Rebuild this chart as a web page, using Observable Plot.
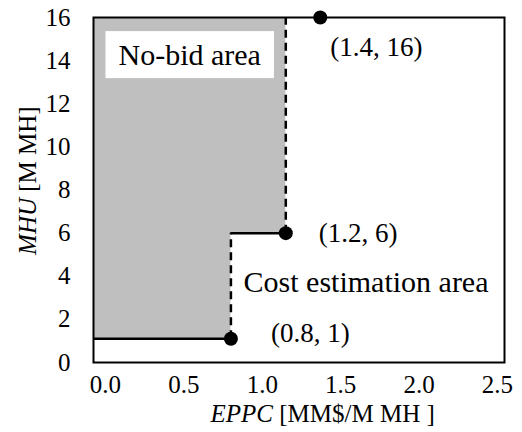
<!DOCTYPE html>
<html>
<head>
<meta charset="utf-8">
<script src="https://cdn.jsdelivr.net/npm/d3@7"></script>
<script src="https://cdn.jsdelivr.net/npm/@observablehq/plot@0.6"></script>
<style>
  html, body { margin: 0; padding: 0; background: white; }
  #chart svg, #chart svg text { font-family: "Liberation Serif", Tinos, "Times New Roman", Times, serif !important; }
</style>
</head>
<body>
<div id="chart"></div>
<script>
// ---- data ----
const pointX = [0.8, 1.15, 1.37];          // EPPC of the break points (as plotted)
const pointY = [1.1, 6, 16];               // MHU of the break points (as plotted)
const pointLabels = ["(0.8, 1)", "(1.2, 6)", "(1.4, 16)"];
const xTicks = [0, 0.5, 1.0, 1.5, 2.0, 2.5];
const yTicks = [0, 2, 4, 6, 8, 10, 12, 14, 16];
const areaLabels = ["No-bid area", "Cost estimation area"];
const xTitle = ["EPPC", " [MM$/M MH ]"];
const yTitle = ["MHU", " [M MH]"];

// ---- layout ----
const xDomain = [-0.0765, 2.545];
const yDomain = [0, 16];
const FONT = "'Liberation Serif', Tinos, 'Times New Roman', Times, serif";

const points = pointX.map((x, i) => ({x, y: pointY[i], label: pointLabels[i]}));
const xmin = xDomain[0];
const regions = [
  {x1: xmin, x2: pointX[0], y1: pointY[0], y2: pointY[2]},
  {x1: xmin, x2: pointX[1], y1: pointY[1], y2: pointY[2]}
];
const solidSegs = [
  {x1: xmin, x2: pointX[0], y: pointY[0]},
  {x1: pointX[0], x2: pointX[1], y: pointY[1]}
];
const dashedSegs = [
  {x: pointX[0], y1: pointY[0], y2: pointY[1]},
  {x: pointX[1], y1: pointY[1], y2: pointY[2]}
];
const labelOffsets = [[40, -5], [33, 0], [10, 30]];

const chart = Plot.plot({
  width: 522,
  height: 432,
  marginLeft: 93,
  marginRight: 18,
  marginTop: 17,
  marginBottom: 70,
  style: {fontFamily: FONT, fontSize: "25px", background: "white", color: "black", overflow: "visible"},
  x: {domain: xDomain, ticks: xTicks, tickFormat: d3.format(".1f"), tickSize: 0, tickPadding: 13, label: null},
  y: {domain: yDomain, ticks: yTicks, tickSize: 0, tickPadding: 23, label: null},
  marks: [
    Plot.rect(regions, {x1: "x1", x2: "x2", y1: "y1", y2: "y2", fill: "#bfbfbf"}),
    Plot.ruleY(solidSegs, {x1: "x1", x2: "x2", y: "y", stroke: "black", strokeWidth: 2.5}),
    Plot.ruleX(dashedSegs, {x: "x", y1: "y1", y2: "y2", stroke: "black", strokeWidth: 2.5, strokeDasharray: "8,5"}),
    Plot.frame({stroke: "black", strokeWidth: 2}),
    Plot.dot(points, {x: "x", y: "y", r: 7, fill: "black", stroke: "none"}),
    ...points.map((p, i) => Plot.text([p], {
      x: "x", y: "y", text: "label", textAnchor: "start", lineAnchor: "middle",
      dx: labelOffsets[i][0], dy: labelOffsets[i][1], fontSize: 27, fill: "black"
    })),
    Plot.text([areaLabels[0]], {
      frameAnchor: "top-left", textAnchor: "start", lineAnchor: "middle",
      dx: 25, dy: 38, fontSize: 30, fill: "black"
    }),
    Plot.text([areaLabels[1]], {
      frameAnchor: "bottom-right", textAnchor: "end", lineAnchor: "middle",
      dx: -16, dy: -80, fontSize: 30, fill: "black"
    }),
    // x axis title
    Plot.text([xTitle[0]], {frameAnchor: "bottom", textAnchor: "end", lineAnchor: "middle", dx: -26, dy: 51, fontStyle: "italic", fontSize: 25, fill: "black"}),
    Plot.text([xTitle[1]], {frameAnchor: "bottom", textAnchor: "start", lineAnchor: "middle", dx: -26, dy: 51, fontSize: 25, fill: "black"}),
    // y axis title
    Plot.text([yTitle[0]], {frameAnchor: "left", rotate: -90, textAnchor: "end", lineAnchor: "middle", dx: -66, dy: 8, fontStyle: "italic", fontSize: 25, fill: "black"}),
    Plot.text([yTitle[1]], {frameAnchor: "left", rotate: -90, textAnchor: "start", lineAnchor: "middle", dx: -66, dy: 8, fontSize: 25, fill: "black"})
  ]
});

document.getElementById("chart").appendChild(chart);

// white background box behind "No-bid area"
const nb = Array.from(chart.querySelectorAll("text")).find(t => t.textContent === areaLabels[0]);
if (nb) {
  const bb = nb.getBBox();
  const padX = 13;
  const r = document.createElementNS("http://www.w3.org/2000/svg", "rect");
  r.setAttribute("x", bb.x - padX);
  r.setAttribute("y", bb.y - 7);
  r.setAttribute("width", bb.width + 2 * padX);
  r.setAttribute("height", bb.height + 14);
  r.setAttribute("fill", "white");
  const t = nb.getAttribute("transform");
  if (t) r.setAttribute("transform", t);
  nb.parentNode.insertBefore(r, nb);
}
</script>
</body>
</html>
